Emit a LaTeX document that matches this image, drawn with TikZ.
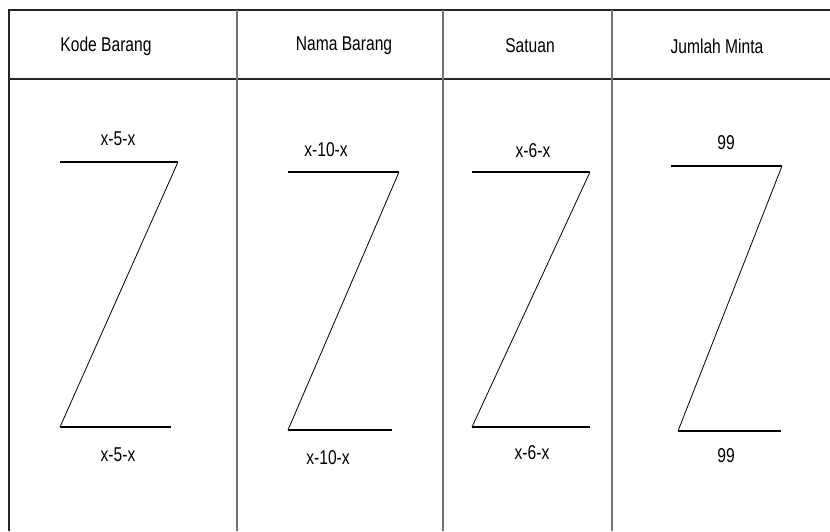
\documentclass[tikz,border=0pt]{standalone}
\usepackage{fontspec}
\setmainfont[FakeStretch=0.78]{Liberation Sans}
\usepackage{tikz}
\usetikzlibrary{positioning}

\begin{document}
\begin{tikzpicture}[x=1pt,y=-1pt,
    every node/.style={font=\fontsize{20}{22}\selectfont,inner sep=0pt},
    rule/.style={line width=1.3pt,black!85},
    divider/.style={line width=1.1pt,black!55},
    zline/.style={line width=1.2pt},
    zslant/.style={line width=0.8pt}]
  \useasboundingbox (0,0) rectangle (830,531);
  % frame of the table
  \draw[rule] (830,10) -- (9,10) -- (9,531);
  \draw[rule] (9,79) -- (830,79);
  \draw[divider] (237,10) -- (237,531);
  \draw[divider] (443,10) -- (443,531);
  \draw[divider] (612,10) -- (612,531);
  % header
  \node (hKode) at (106,46) {Kode Barang};
  \node (hNama) at (344,46) {Nama Barang};
  \node (hSat) at (530,46) {Satuan};
  \node (hJml) at (717,46) {Jumlah Minta};
  % kode barang
  \coordinate (k1) at (60,162); \coordinate (k2) at (178,162);
  \coordinate (k3) at (60,427); \coordinate (k4) at (171,427);
  \draw[zline] (k1) -- (k2);
  \draw[zslant] (k2) -- (k3);
  \draw[zline] (k3) -- (k4);
  \node (kTop) at (118,139) {x-5-x};
  \node (kBot) at (118,455) {x-5-x};
  % nama barang
  \coordinate (n1) at (288,172); \coordinate (n2) at (399,172);
  \coordinate (n3) at (288,430); \coordinate (n4) at (392,430);
  \draw[zline] (n1) -- (n2);
  \draw[zslant] (n2) -- (n3);
  \draw[zline] (n3) -- (n4);
  \node (nTop) at (326,150) {x-10-x};
  \node (nBot) at (328,458) {x-10-x};
  % satuan
  \coordinate (s1) at (472,172); \coordinate (s2) at (590,172);
  \coordinate (s3) at (472,427); \coordinate (s4) at (590,427);
  \draw[zline] (s1) -- (s2);
  \draw[zslant] (s2) -- (s3);
  \draw[zline] (s3) -- (s4);
  \node (sTop) at (533,151) {x-6-x};
  \node (sBot) at (532,453) {x-6-x};
  % jumlah minta
  \coordinate (j1) at (671,166); \coordinate (j2) at (782,166);
  \coordinate (j3) at (678,431); \coordinate (j4) at (781,431);
  \draw[zline] (j1) -- (j2);
  \draw[zslant] (j2) -- (j3);
  \draw[zline] (j3) -- (j4);
  \node (jTop) at (726,143) {99};
  \node (jBot) at (726,456) {99};
\end{tikzpicture}
\end{document}
